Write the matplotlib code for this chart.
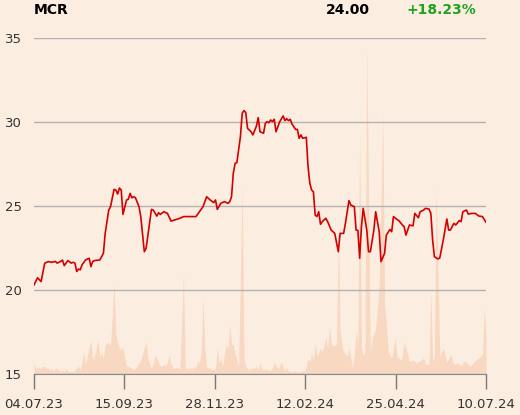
import matplotlib.pyplot as plt

# closing price, by trading day (0 = 04.07.23, 254 = 10.07.24)
price_day = [0, 2, 4, 6, 8, 10, 12, 13, 15, 16, 17, 18, 19, 21, 22, 23, 24, 25, 26, 27,
             29, 31, 32, 33, 34, 37, 39, 40, 42, 43, 45, 46, 47, 48, 49, 50, 52, 53, 54, 55,
             56, 57, 59, 60, 62, 63, 66, 67, 69, 70, 71, 73, 75, 77, 79, 82, 84, 91, 93, 95,
             97, 99, 101, 102, 103, 105, 107, 109, 110, 111, 112, 113, 114, 116, 117, 118, 119, 120, 122, 123,
             125, 126, 127, 129, 130, 131, 132, 133, 134, 135, 136, 138, 140, 141, 142, 143, 144, 145, 147, 148,
             149, 150, 151, 153, 154, 155, 156, 157, 158, 159, 160, 161, 162, 164, 165, 167, 169, 171, 172, 174,
             175, 177, 178, 180, 181, 182, 183, 184, 185, 187, 188, 189, 191, 192, 194, 195, 197, 198, 200, 201,
             202, 204, 205, 207, 208, 209, 211, 213, 214, 216, 217, 219, 220, 222, 223, 224, 225, 227, 228, 230,
             232, 233, 234, 236, 237, 239, 240, 241, 243, 244, 246, 248, 250, 252, 254]
price = [20.30, 20.73, 20.50, 21.59, 21.69, 21.65, 21.70, 21.60, 21.70, 21.78, 21.45, 21.60, 21.75, 21.60, 21.65, 21.60, 21.10, 21.25, 21.20, 21.50,
         21.79, 21.89, 21.39, 21.70, 21.75, 21.79, 22.18, 23.37, 24.76, 24.96, 25.99, 25.95, 25.71, 26.07, 25.95, 24.50, 25.36, 25.40, 25.75, 25.49,
         25.55, 25.49, 24.96, 24.37, 22.28, 22.48, 24.80, 24.76, 24.40, 24.60, 24.50, 24.66, 24.56, 24.10, 24.17, 24.27, 24.37, 24.37, 24.66, 24.96,
         25.55, 25.36, 25.20, 25.36, 24.80, 25.16, 25.26, 25.16, 25.26, 25.55, 26.95, 27.54, 27.58, 29.13, 30.52, 30.68, 30.56, 29.62, 29.42, 29.23,
         29.76, 30.26, 29.42, 29.33, 29.92, 30.02, 29.96, 30.12, 30.02, 30.16, 29.42, 30.00, 30.36, 30.08, 30.20, 30.08, 30.16, 29.88, 29.56, 29.56,
         29.03, 29.23, 29.03, 29.09, 27.34, 26.35, 25.95, 25.85, 24.46, 24.37, 24.66, 23.91, 24.07, 24.27, 24.07, 23.57, 23.37, 22.28, 23.37, 23.37,
         23.97, 25.32, 25.06, 24.96, 23.57, 23.55, 21.89, 23.77, 24.86, 23.57, 22.28, 22.28, 23.57, 24.66, 23.47, 21.69, 22.18, 23.27, 23.60, 23.47,
         24.37, 24.20, 24.13, 23.87, 23.77, 23.27, 23.87, 23.82, 24.56, 24.30, 24.66, 24.76, 24.86, 24.82, 24.56, 22.98, 21.98, 21.85, 21.90, 22.98,
         24.23, 23.57, 23.57, 23.97, 23.87, 24.13, 24.07, 24.66, 24.76, 24.52, 24.56, 24.56, 24.40, 24.37, 24.03]

# traded volume (thousand shares), by trading day
vol_day = [0, 1, 2, 3, 5, 6, 7, 8, 9, 10, 11, 12, 14, 15, 16, 17, 18, 19, 20, 21,
           22, 24, 25, 26, 28, 29, 30, 32, 33, 34, 36, 37, 38, 39, 40, 42, 43, 45, 46, 47,
           48, 49, 50, 51, 52, 53, 55, 56, 57, 58, 60, 61, 63, 64, 65, 66, 67, 68, 69, 70,
           71, 72, 73, 74, 75, 76, 77, 78, 79, 80, 81, 82, 84, 85, 86, 88, 89, 90, 91, 92,
           93, 94, 95, 96, 97, 99, 101, 102, 103, 104, 105, 106, 107, 108, 109, 110, 111, 112, 113, 114,
           115, 117, 118, 119, 120, 121, 122, 124, 125, 126, 127, 128, 129, 130, 131, 133, 134, 135, 137, 138,
           139, 140, 141, 142, 143, 145, 146, 148, 150, 151, 152, 154, 155, 156, 157, 158, 159, 160, 161, 162,
           164, 165, 166, 167, 168, 170, 171, 172, 173, 174, 176, 177, 179, 180, 181, 182, 183, 184, 185, 186,
           187, 189, 190, 192, 193, 194, 196, 197, 198, 199, 201, 203, 204, 206, 207, 208, 210, 211, 213, 215,
           217, 219, 220, 222, 223, 224, 225, 226, 228, 230, 232, 234, 236, 238, 240, 242, 245, 248, 250, 252,
           253, 254]
volume = [17, 8, 11, 8, 12, 11, 8, 9, 6, 8, 5, 9, 6, 3, 6, 3, 8, 5, 3, 5,
          3, 9, 12, 6, 33, 15, 27, 50, 21, 27, 51, 26, 33, 23, 44, 48, 42, 137, 60, 47,
          39, 36, 41, 23, 11, 12, 8, 6, 9, 12, 21, 30, 48, 24, 15, 9, 15, 29, 23, 17,
          12, 11, 15, 12, 18, 29, 15, 9, 8, 11, 8, 9, 150, 9, 8, 9, 8, 12, 9, 21,
          15, 33, 113, 38, 11, 8, 6, 8, 39, 17, 24, 12, 30, 44, 38, 74, 45, 44, 30, 21,
          12, 284, 23, 11, 8, 6, 8, 9, 12, 6, 17, 8, 5, 8, 6, 5, 9, 17, 8, 12,
          18, 9, 5, 9, 5, 3, 5, 3, 3, 5, 3, 23, 18, 30, 21, 47, 27, 32, 39, 33,
          56, 38, 71, 48, 41, 45, 216, 66, 45, 33, 27, 39, 9, 30, 66, 45, 359, 41, 29, 32,
          489, 32, 53, 69, 101, 135, 392, 105, 77, 33, 24, 54, 26, 21, 27, 48, 29, 18, 21, 17,
          20, 24, 15, 14, 122, 18, 30, 282, 26, 39, 17, 29, 14, 17, 12, 20, 11, 21, 24, 30,
          98, 60]

tick_labels = ["04.07.23", "15.09.23", "28.11.23", "12.02.24", "25.04.24", "10.07.24"]
last_price = "24.00"
change = "+18.23%"

bg = "#fcede1"
fig = plt.figure(figsize=(5.2, 4.15), dpi=100, facecolor=bg)
ax = fig.add_axes([34 / 520, 41 / 415, 452 / 520, 336 / 415])
ax2 = ax.twinx()
ax2.set_zorder(0)
ax.set_zorder(1)
ax.patch.set_visible(False)
ax2.set_facecolor(bg)

ax2.fill_between(vol_day, volume, 0, color="#f8d8c0", lw=0)
ax2.set_ylim(0, 504)
ax2.set_yticks([])
for s in ax2.spines.values():
    s.set_visible(False)

ax.plot(price_day, price, color="#d40000", lw=1.2)
ax.set_ylim(15, 35)
ax.set_xlim(0, 254)
ax.set_yticks([15, 20, 25, 30, 35])
ax.grid(axis="y", color="#b3b3b3", lw=1)
ax.set_axisbelow(True)
ax.set_xticks([i * 254 / 5 for i in range(6)])
ax.set_xticklabels(tick_labels)
ax.tick_params(axis="x", length=10.5, width=1, color="#777777", pad=7,
               labelsize=9.5, labelcolor="#333333")
ax.tick_params(axis="y", length=0, pad=9, labelsize=9.5, labelcolor="#333333")
for k in ["top", "right", "left"]:
    ax.spines[k].set_visible(False)
ax.spines["bottom"].set_color("#888888")

fig.text(34 / 520, 1 - 10 / 415, "MCR", fontsize=10, fontweight="bold", va="center", ha="left")
fig.text(370 / 520, 1 - 10 / 415, last_price, fontsize=10, fontweight="bold", va="center", ha="right")
fig.text(406 / 520, 1 - 10 / 415, change, fontsize=10, fontweight="bold", va="center", ha="left",
         color="#1ea31e")

fig.savefig("out.png", dpi=100, facecolor=bg)
